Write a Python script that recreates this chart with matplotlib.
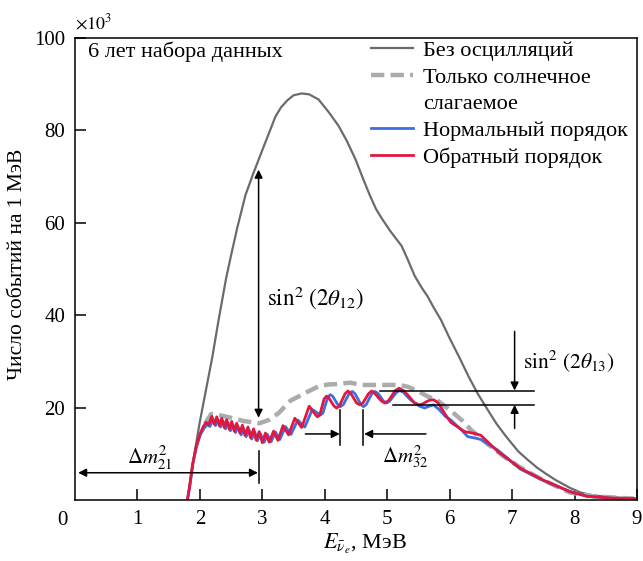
#!/bin/python3

import matplotlib
matplotlib.use('Agg')
import matplotlib.pyplot as plt
from matplotlib.lines import Line2D

# reactor antineutrino spectrum, 6 years of data (x 10^3 events per MeV)
no_osc_x = [1.80, 1.90, 2.00, 2.10, 2.20, 2.30, 2.42, 2.50, 2.60, 2.73, 2.85, 2.95, 3.08, 3.21, 3.30, 3.40,
	3.50, 3.63, 3.75, 3.90, 4.06, 4.22, 4.35, 4.49, 4.60, 4.72, 4.82, 4.91, 5.05, 5.23, 5.33, 5.44,
	5.55, 5.65, 5.75, 5.86, 6.00, 6.15, 6.30, 6.45, 6.61, 6.75, 6.90, 7.10, 7.25, 7.40, 7.55, 7.70,
	7.93, 8.10, 8.30, 8.60, 9.00]
no_osc_y = [0.0, 9.0, 17.0, 24.0, 31.0, 39.0, 48.0, 53.0, 59.0, 66.0, 70.5, 74.0, 78.5, 83.0, 85.0, 86.5,
	87.6, 88.0, 87.8, 86.7, 84.0, 81.0, 77.8, 73.8, 70.0, 66.0, 63.0, 61.0, 58.2, 55.0, 52.0, 48.5,
	46.0, 44.0, 41.5, 39.0, 35.0, 31.0, 26.8, 23.0, 19.5, 16.5, 13.8, 10.5, 8.7, 7.0, 5.6, 4.3,
	2.6, 1.6, 1.0, 0.6, 0.3]

solar_x = [2.08, 2.18, 2.30, 2.50, 2.70, 2.95, 3.10, 3.26, 3.45, 3.58, 3.75, 3.90, 4.05, 4.22, 4.40, 4.60,
	4.80, 5.07, 5.20, 5.33, 5.50, 5.65, 5.81, 6.02, 6.20, 6.34, 6.60, 6.87, 7.10, 7.40, 7.70, 7.93, 8.30, 8.95]
solar_y = [16.5, 18.6, 18.4, 17.8, 17.1, 16.6, 17.3, 18.8, 21.5, 22.4, 23.6, 24.6, 25.0, 25.1, 25.4, 24.9,
	24.9, 24.9, 24.9, 24.5, 23.5, 22.4, 21.5, 19.3, 17.2, 15.2, 12.2, 9.4, 7.3, 5.0, 3.0, 1.6, 0.8, 0.3]

normal_x = [1.80, 1.84, 1.89, 1.95, 2.01, 2.07, 2.12,
	2.16, 2.21, 2.25, 2.29, 2.33, 2.37, 2.41, 2.45, 2.49, 2.53, 2.57, 2.61, 2.66, 2.70, 2.74, 2.79,
	2.83, 2.88, 2.92, 2.97, 3.03, 3.08, 3.14, 3.21, 3.28, 3.37, 3.46, 3.515, 3.57, 3.625, 3.68, 3.74,
	3.80, 3.865, 3.93, 3.97, 4.01, 4.05, 4.09, 4.13, 4.17, 4.21, 4.25, 4.30, 4.345, 4.39, 4.44, 4.485,
	4.53, 4.575, 4.62, 4.665, 4.71, 4.755, 4.80, 4.85, 4.895, 4.94, 4.99, 5.04, 5.095, 5.15, 5.20, 5.26,
	5.32, 5.38, 5.44, 5.52, 5.60, 5.67, 5.74, 5.83, 5.93, 6.02, 6.20, 6.29, 6.41, 6.50, 6.77,
	7.13, 7.50, 7.93, 8.20, 8.60, 8.95]
normal_y = [0.0, 3.0, 8.0, 11.8, 14.2, 15.6, 16.3,
	15.9, 17.5, 16.1, 17.4, 15.8, 17.1, 15.4, 16.7, 15.0, 16.3, 14.6, 15.9, 14.1, 15.5, 13.7, 15.1,
	13.2, 14.7, 12.8, 14.3, 12.5, 14.2, 12.6, 14.7, 13.1, 15.9, 14.2, 15.8, 17.3, 16.5, 15.8, 17.7,
	19.6, 19.0, 18.4, 18.8, 20.6, 22.3, 22.8, 22.4, 21.5, 20.6, 20.2, 20.7, 21.9, 23.0, 23.5, 23.0,
	21.9, 20.7, 20.2, 20.7, 21.9, 23.0, 23.5, 23.1, 22.3, 21.4, 21.0, 21.4, 22.4, 23.3, 23.7, 23.3,
	22.4, 21.6, 21.0, 20.3, 19.9, 20.3, 20.6, 19.6, 18.1, 17.3, 15.0, 13.7, 13.4, 13.1, 10.8,
	6.7, 4.2, 1.8, 0.8, 0.4, 0.3]

inverted_x = [1.80, 1.83, 1.88, 1.94, 2.00, 2.05, 2.10,
	2.14, 2.19, 2.23, 2.27, 2.31, 2.35, 2.39, 2.43, 2.47, 2.51, 2.55, 2.59, 2.64, 2.68, 2.72, 2.77,
	2.81, 2.86, 2.90, 2.95, 3.00, 3.05, 3.11, 3.18, 3.25, 3.33, 3.42, 3.47, 3.52, 3.575, 3.63, 3.69,
	3.75, 3.815, 3.88, 3.92, 3.955, 3.99, 4.03, 4.07, 4.11, 4.15, 4.19, 4.235, 4.28, 4.325, 4.37, 4.42,
	4.465, 4.51, 4.56, 4.61, 4.655, 4.70, 4.75, 4.80, 4.855, 4.91, 4.96, 5.02, 5.075, 5.13, 5.19, 5.27,
	5.35, 5.43, 5.51, 5.57, 5.63, 5.68, 5.74, 5.80, 5.85, 5.93, 6.02, 6.24, 6.40, 6.50, 6.77,
	7.13, 7.50, 7.93, 8.20, 8.60, 8.95]
inverted_y = [0.0, 2.5, 7.5, 11.5, 14.2, 15.8, 16.8,
	16.3, 18.1, 16.4, 18.0, 16.1, 17.7, 15.7, 17.4, 15.3, 17.0, 14.9, 16.6, 14.5, 16.2, 14.0, 15.8,
	13.5, 15.4, 13.0, 14.8, 12.4, 14.5, 12.5, 14.9, 12.9, 16.1, 14.1, 15.9, 17.7, 16.7, 15.7, 18.0,
	20.3, 19.1, 18.0, 18.4, 20.2, 21.9, 22.5, 22.0, 21.1, 20.3, 19.9, 20.4, 21.7, 23.0, 23.6, 23.0,
	22.0, 21.0, 20.6, 21.0, 22.0, 23.0, 23.6, 23.1, 22.2, 21.4, 21.0, 21.5, 22.6, 23.7, 24.2, 23.6,
	22.4, 21.1, 20.6, 20.8, 21.3, 21.6, 21.7, 21.2, 20.3, 18.5, 16.8, 14.8, 14.4, 14.0, 10.5,
	6.9, 4.3, 1.8, 0.8, 0.4, 0.3]

x_ticks = [1, 2, 3, 4, 5, 6, 7, 8, 9]
y_ticks = [20, 40, 60, 80, 100]

labels = ['Без осцилляций', 'Только солнечное', 'слагаемое', 'Нормальный порядок', 'Обратный порядок']

GRAY = '#6b6b6b'
DASH = '#ababab'
BLUE = '#3f6ee0'
RED = '#e0173f'


def main():
	plt.rcParams['font.family'] = ['Liberation Serif', 'DejaVu Serif']
	plt.rcParams['mathtext.fontset'] = 'stix'
	plt.rcParams['font.size'] = 16

	fig = plt.figure(figsize=(6.43, 5.61), dpi=100)
	ax = fig.add_axes([75 / 643, 1 - 500 / 561, 562 / 643, 462 / 561])

	# the four spectra
	ax.plot(no_osc_x, no_osc_y, color=GRAY, lw=1.6)
	ax.plot(solar_x, solar_y, color=DASH, lw=3.2, dashes=(3, 1.4))
	ax.plot(normal_x, normal_y, color=BLUE, lw=2.0, solid_joinstyle='round')
	ax.plot(inverted_x, inverted_y, color=RED, lw=2.0, solid_joinstyle='round')

	ax.set_xlim(0, 9)
	ax.set_ylim(0, 100)
	ax.set_xticks(x_ticks)
	ax.set_yticks(y_ticks)
	ax.tick_params(direction='in', length=8, width=1.1, labelsize=15, pad=7)
	for s in ax.spines.values():
		s.set_linewidth(1.1)
	# corner zero
	ax.text(-0.2, -0.045, '0', transform=ax.get_xaxis_transform(), ha='center', va='center', fontsize=15)
	ax.text(0.0, 1.01, r'$\times10^3$', transform=ax.transAxes, ha='left', va='bottom', fontsize=13)

	ax.set_xlabel(r'$E_{\bar{\nu}_e}$, МэВ', fontsize=16)
	ax.xaxis.set_label_coords(0.516, -0.068)
	ax.set_ylabel('Число событий на 1 МэВ', fontsize=15.5)
	ax.yaxis.set_label_coords(-0.085, 0.509)

	ax.text(0.21, 97, '6 лет набора данных', ha='left', va='center', fontsize=16)

	# legend, second label split in two rows
	handles = [
		Line2D([], [], color=GRAY, lw=1.6),
		Line2D([], [], color=DASH, lw=3.2, dashes=(3, 1.4)),
		Line2D([], [], color='none'),
		Line2D([], [], color=BLUE, lw=2.0),
		Line2D([], [], color=RED, lw=2.0),
	]
	ax.legend(handles, labels, loc='upper left', bbox_to_anchor=(0.527, 0.995), frameon=False,
		fontsize=16, handlelength=1.9, handletextpad=0.45, labelspacing=0.28, borderpad=0, borderaxespad=0)

	# annotations
	arr = dict(arrowstyle='-|>', color='black', lw=1.1, mutation_scale=12, shrinkA=0, shrinkB=0)
	arr2 = dict(arrowstyle='<|-|>', color='black', lw=1.1, mutation_scale=12, shrinkA=0, shrinkB=0)

	ax.annotate('', xy=(2.94, 71.5), xytext=(2.94, 17.8), arrowprops=arr2)
	ax.text(3.07, 43.8, r'$\mathrm{sin}^2\ (2\theta_{12})$', ha='left', va='center', fontsize=16.5)

	ax.annotate('', xy=(0.05, 5.9), xytext=(2.93, 5.9), arrowprops=arr2)
	ax.plot([2.95, 2.95], [3.7, 10.5], color='black', lw=1.1)
	ax.text(1.2, 9.0, r'$\Delta m^2_{21}$', ha='center', va='center', fontsize=15)

	ax.plot([4.25, 4.25], [11.9, 19.5], color='black', lw=1.1)
	ax.plot([4.62, 4.62], [11.9, 19.5], color='black', lw=1.1)
	ax.annotate('', xy=(4.24, 14.3), xytext=(3.69, 14.3), arrowprops=arr)
	ax.annotate('', xy=(4.63, 14.3), xytext=(5.62, 14.3), arrowprops=arr)
	ax.text(5.28, 9.4, r'$\Delta m^2_{32}$', ha='center', va='center', fontsize=15)

	ax.plot([4.88, 7.35], [23.7, 23.7], color='black', lw=1.1)
	ax.plot([5.10, 7.35], [20.6, 20.6], color='black', lw=1.1)
	ax.annotate('', xy=(7.04, 23.7), xytext=(7.04, 36.5), arrowprops=arr)
	ax.annotate('', xy=(7.04, 20.6), xytext=(7.04, 15.5), arrowprops=arr)
	ax.text(7.17, 30.0, r'$\mathrm{sin}^2\ (2\theta_{13})$', ha='left', va='center', fontsize=15.5)

	fig.savefig('out.png', dpi=100)


main()
